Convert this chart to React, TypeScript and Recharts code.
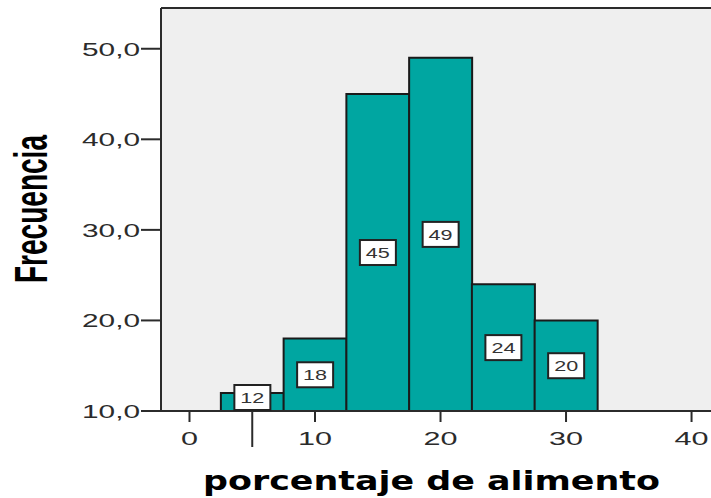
import {
  Bar,
  BarChart,
  CartesianGrid,
  Label,
  LabelList,
  ReferenceLine,
  XAxis,
  YAxis,
} from 'recharts';

// histogram bins (centre of each 5-wide bin) and counts
const binCenters = [5, 10, 15, 20, 25, 30];
const frequencies = [12, 18, 45, 49, 24, 20];
const xTicks = [0, 5, 10, 20, 30, 40];
const yTicks = [10, 20, 30, 40, 50];
const markerValue = 5; // long unlabeled tick under the x axis
const xTitle = 'porcentaje de alimento';
const yTitle = 'Frecuencia';

const data = binCenters.map((bin, i) => ({ bin, freq: frequencies[i] }));

const X_DOMAIN: [number, number] = [-2.27, 41.55];
const Y_DOMAIN: [number, number] = [10, 54.5];

const INK = '#2b2b2b';
const FONT = '"Liberation Sans", Arial, sans-serif';

const fmtY = (v: number) => v.toFixed(1).replace('.', ',');

const XTick = ({ x, y, payload }: any) => {
  const v = payload.value;
  const isMarker = v === markerValue;
  const txt = String(v);
  return (
    <g>
      <line x1={x} x2={x} y1={y} y2={y + (isMarker ? 36 : 11)} stroke={INK} strokeWidth={2} />
      {!isMarker && (
        <text
          x={x}
          y={y + 34}
          textAnchor="middle"
          fontSize={18}
          fontFamily={FONT}
          fill={INK}
          textLength={txt.length * 17}
          lengthAdjust="spacingAndGlyphs"
        >
          {txt}
        </text>
      )}
    </g>
  );
};

const YTick = ({ x, y, payload }: any) => (
  <text
    x={x}
    y={y + 7}
    textAnchor="end"
    fontSize={18}
    fontFamily={FONT}
    fill={INK}
    textLength={58}
    lengthAdjust="spacingAndGlyphs"
  >
    {fmtY(payload.value)}
  </text>
);

const BoxLabel = ({ x, y, width, height, value }: any) => {
  const w = 36;
  const h = 25;
  const cx = x + width / 2;
  let cy = y + height / 2;
  const bottom = y + height;
  if (cy + h / 2 > bottom - 1) cy = bottom - 1 - h / 2;
  return (
    <g>
      <rect x={cx - w / 2} y={cy - h / 2} width={w} height={h} fill="#fff" stroke="#222" strokeWidth={2} />
      <text
        x={cx}
        y={cy + 5.5}
        textAnchor="middle"
        fontSize={15}
        fontFamily={FONT}
        fill="#333"
        textLength={24}
        lengthAdjust="spacingAndGlyphs"
      >
        {value}
      </text>
    </g>
  );
};

const XTitle = () => (
  <text
    x={431.5}
    y={490}
    textAnchor="middle"
    fontSize={26}
    fontWeight="bold"
    fontFamily='"DejaVu Sans", Verdana, sans-serif'
    fill="#000"
    textLength={457}
    lengthAdjust="spacingAndGlyphs"
  >
    {xTitle}
  </text>
);

const YTitle = () => (
  <text
    transform="translate(47,209) rotate(-90)"
    x={0}
    y={0}
    textAnchor="middle"
    fontSize={47}
    fontWeight="bold"
    fontFamily={FONT}
    fill="#000"
    textLength={148}
    lengthAdjust="spacingAndGlyphs"
  >
    {yTitle}
  </text>
);

export default function App() {
  return (
    <div style={{ position: 'absolute', left: 0, top: 0, width: 711, height: 498, background: '#fff' }}>
      <BarChart
        width={711}
        height={498}
        data={data}
        margin={{ top: 8, right: 0, bottom: 0, left: 0 }}
        barCategoryGap={0}
        barGap={0}
      >
        <CartesianGrid horizontal={false} vertical={false} fill="#efefef" />
        <XAxis
          dataKey="bin"
          type="number"
          domain={X_DOMAIN}
          allowDataOverflow
          ticks={xTicks}
          interval={0}
          height={87}
          tickSize={0}
          tickMargin={0}
          tickLine={false}
          axisLine={{ stroke: INK, strokeWidth: 2 }}
          tick={<XTick />}
        >
          <Label content={<XTitle />} />
        </XAxis>
        <YAxis
          type="number"
          domain={Y_DOMAIN}
          allowDataOverflow
          ticks={yTicks}
          interval={0}
          width={161}
          tickSize={20}
          tickMargin={1}
          tickLine={{ stroke: INK, strokeWidth: 2 }}
          axisLine={{ stroke: INK, strokeWidth: 2 }}
          tick={<YTick />}
        >
          <Label content={<YTitle />} />
        </YAxis>
        <ReferenceLine y={Y_DOMAIN[1]} stroke={INK} strokeWidth={2} />
        <Bar dataKey="freq" fill="#00a6a1" stroke="#1a1a1a" strokeWidth={2} isAnimationActive={false}>
          <LabelList dataKey="freq" content={<BoxLabel />} />
        </Bar>
      </BarChart>
    </div>
  );
}
